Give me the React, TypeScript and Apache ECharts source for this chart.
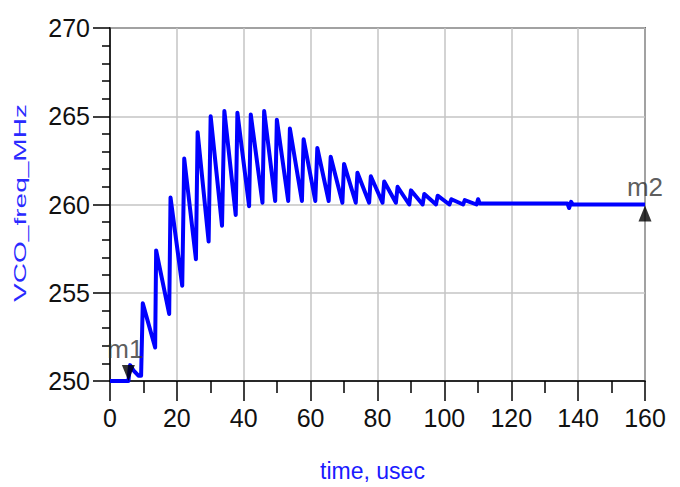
import React, { useEffect, useRef } from "react";
import * as echarts from "echarts";

// Time (usec) and VCO frequency (MHz)
const timeUs: number[] = [
  0, 5.5, 6.0, 7.0, 8.5, 9.3, 9.8, 13.5, 13.8, 17.7, 18.1, 21.6, 22.2, 25.7,
  26.2, 29.5, 30.1, 33.5, 34.2, 37.6, 38.1, 41.6, 42.1, 45.6, 46.1, 49.4, 49.9,
  53.3, 53.8, 57.4, 57.9, 61.4, 62.0, 65.4, 66.0, 69.5, 70.0, 73.5, 74.0, 77.5,
  78.0, 81.5, 82.0, 85.5, 86.0, 89.5, 90.0, 93.5, 94.0, 97.5, 98.0, 101.5,
  102.1, 105.6, 106.1, 109.6, 110.1, 110.6, 136.8, 137.3, 137.9, 138.4, 160,
];
const freqMHz: number[] = [
  250, 250, 250.9, 250.6, 250.3, 250.3, 254.4, 251.9, 257.4, 253.8, 260.4,
  255.4, 262.6, 256.9, 264.1, 257.9, 265.0, 258.8, 265.3, 259.4, 265.2, 259.9,
  265.1, 260.1, 265.3, 260.2, 264.8, 260.2, 264.3, 260.2, 263.7, 260.2, 263.2,
  260.2, 262.7, 260.1, 262.3, 260.1, 261.8, 260.1, 261.6, 260.1, 261.3, 260.1,
  261.0, 260.0, 260.8, 260.0, 260.6, 260.0, 260.5, 260.0, 260.3, 260.0, 260.25,
  260.0, 260.3, 260.05, 260.05, 259.8, 260.15, 260.0, 260.0,
];

// Markers
const markerNames: string[] = ["m1", "m2"];
const markerTimes: number[] = [5.5, 160];
const markerValues: number[] = [250, 260];

// Axes
const xMin = 0;
const xMax = 160;
const xStep = 20;
const yMin = 250;
const yMax = 270;
const yStep = 5;
const xTitle = "time, usec";
const yTitle = "VCO_freq_MHz";

const LABEL_FONT = "'Liberation Sans', Arial, Helvetica, sans-serif";

export default function App() {
  const ref = useRef<HTMLDivElement>(null);

  useEffect(() => {
    if (!ref.current) return;
    const chart = echarts.init(ref.current, undefined, { renderer: "svg" });

    const traceData = timeUs.map((t, i) => [t, freqMHz[i]]);
    const markerData = markerNames.map((name, i) => {
      const down = i === 0;
      return {
        name,
        value: [markerTimes[i], markerValues[i]],
        symbol: down ? "path://M0 0L12 0L6 14Z" : "triangle",
        symbolSize: [13, 16],
        symbolOffset: down ? [0, -8] : [0, 9],
        label: {
          show: true,
          formatter: name,
          position: "top",
          distance: down ? 3 : 6,
          offset: down ? [-3, 0] : [0, 0],
          fontFamily: LABEL_FONT,
          fontSize: 26,
          color: "#333",
        },
      };
    });

    const option: any = {
      animation: false,
      backgroundColor: "#fff",
      grid: {
        left: 110,
        right: 35,
        top: 28,
        bottom: 105,
        show: true,
        borderColor: "#000",
        borderWidth: 1.5,
        backgroundColor: "transparent",
      },
      graphic: [
        {
          type: "text",
          x: 20,
          y: 203,
          rotation: Math.PI / 2,
          scaleX: 1.65,
          style: {
            text: yTitle,
            fontFamily: LABEL_FONT,
            fontSize: 17,
            fill: "#2a2aff",
            align: "center",
            verticalAlign: "middle",
          },
        },
      ],
      xAxis: {
        type: "value",
        min: xMin,
        max: xMax,
        interval: xStep,
        name: xTitle,
        nameLocation: "middle",
        nameGap: 78,
        nameTextStyle: {
          fontFamily: LABEL_FONT,
          fontSize: 23,
          color: "#1a1aff",
          padding: [0, 10, 0, 0],
        },
        axisLine: { show: true, onZero: false, lineStyle: { color: "#000", width: 1.5 } },
        axisTick: { show: true, length: 20, lineStyle: { color: "#000", width: 1.5 } },
        minorTick: { show: true, splitNumber: 2, length: 12, lineStyle: { color: "#000", width: 1.5 } },
        axisLabel: {
          margin: 24,
          fontFamily: LABEL_FONT,
          fontSize: 25,
          color: "#111",
        },
        splitLine: { show: true, lineStyle: { color: "#c4c4c4", width: 1.5 } },
      },
      yAxis: {
        type: "value",
        min: yMin,
        max: yMax,
        interval: yStep,
        axisLine: { show: true, onZero: false, lineStyle: { color: "#000", width: 1.5 } },
        axisTick: { show: true, length: 17, lineStyle: { color: "#000", width: 1.5 } },
        minorTick: { show: true, splitNumber: 5, length: 8, lineStyle: { color: "#000", width: 1.5 } },
        axisLabel: {
          margin: 20,
          fontFamily: LABEL_FONT,
          fontSize: 25,
          color: "#111",
          verticalAlign: "middle",
          padding: [0, 0, 12, 0],
        },
        splitLine: { show: true, lineStyle: { color: "#c4c4c4", width: 1.5 } },
      },
      series: [
        {
          type: "line",
          data: traceData,
          showSymbol: false,
          symbol: "none",
          lineStyle: { color: "#0000ff", width: 4, join: "round" },
          z: 3,
        },
        {
          type: "scatter",
          data: markerData,
          clip: false,
          itemStyle: { color: "#000" },
          z: 4,
        },
      ],
    };

    chart.setOption(option);
    return () => chart.dispose();
  }, []);

  return (
    <div
      ref={ref}
      style={{ position: "fixed", left: 0, top: 0, width: 680, height: 487, background: "#fff" }}
    />
  );
}
